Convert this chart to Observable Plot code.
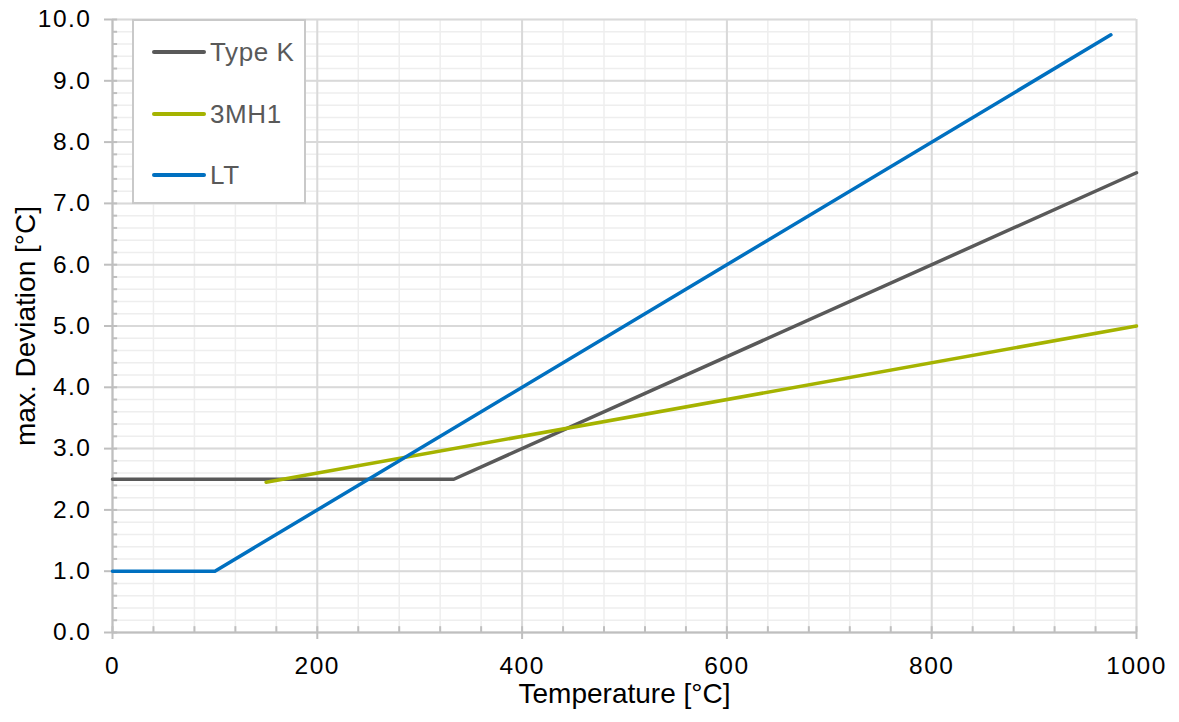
<!DOCTYPE html>
<html>
<head>
<meta charset="utf-8">
<script src="https://cdn.jsdelivr.net/npm/d3@7"></script>
<script src="https://cdn.jsdelivr.net/npm/@observablehq/plot@0.6"></script>
<style>
  html, body { margin: 0; padding: 0; background: #fff; }
  #wrap { position: relative; width: 1179px; height: 722px; font-family: "Liberation Sans", Arial, sans-serif; }
  #legend { position: absolute; left: 132px; top: 19px; width: 170px; height: 181px; border: 2px solid #c9c9c9; background: #fff; }
  .item { position: absolute; left: 18px; height: 30px; display: flex; align-items: center; }
  .sw { width: 54px; height: 4px; border-radius: 2px; margin-right: 4px; }
  .lab { font-size: 26px; color: #595959; white-space: nowrap; letter-spacing: 0.6px; }
  g[aria-label="x-axis tick label"], g[aria-label="y-axis tick label"] { letter-spacing: 1.5px; }
</style>
</head>
<body>
<div id="wrap"></div>
<script>
// ---- data ----
const seriesNames = ["Type K", "3MH1", "LT"];
const seriesColors = ["#595959", "#a5b300", "#0070c0"];

const typeK_T = [0, 333.3, 1000];
const typeK_D = [2.5, 2.5, 7.5];

const mh1_T = [150, 1000];
const mh1_D = [2.45, 5.0];

const lt_T = [0, 100, 975];
const lt_D = [1.0, 1.0, 9.75];

const xTicks = [0, 200, 400, 600, 800, 1000];
const yTicks = [0, 1, 2, 3, 4, 5, 6, 7, 8, 9, 10];
const xMinor = d3.range(0, 1001, 40);
const yMinor = d3.range(0, 10.001, 0.2).map(v => +v.toFixed(1));

const xTitle = "Temperature [°C]";
const yTitle = "max. Deviation [°C]";

// ---- table ----
const rows = [];
[[typeK_T, typeK_D], [mh1_T, mh1_D], [lt_T, lt_D]].forEach(([T, D], i) => {
  T.forEach((t, j) => rows.push({series: seriesNames[i], T: t, D: D[j]}));
});

const font = "'Liberation Sans', Arial, sans-serif";

const chart = Plot.plot({
  width: 1179,
  height: 722,
  marginLeft: 112,
  marginRight: 43,
  marginTop: 19,
  marginBottom: 90,
  style: {fontFamily: font, background: "#fff"},
  x: {domain: [0, 1000]},
  y: {domain: [0, 10]},
  color: {domain: seriesNames, range: seriesColors},
  marks: [
    Plot.ruleX(xMinor, {stroke: "#eeeeee", strokeWidth: 1.5}),
    Plot.ruleY(yMinor, {stroke: "#eeeeee", strokeWidth: 1.5}),
    Plot.ruleX(xTicks, {stroke: "#d9d9d9", strokeWidth: 2}),
    Plot.ruleY(yTicks, {stroke: "#d9d9d9", strokeWidth: 2}),
    Plot.ruleX(xMinor, {y1: 0, y2: 0.095, stroke: "#bfbfbf", strokeWidth: 2}),
    Plot.ruleY(yMinor, {x1: 0, x2: 5, stroke: "#bfbfbf", strokeWidth: 2}),
    Plot.ruleY([0], {stroke: "#bfbfbf", strokeWidth: 2}),
    Plot.ruleX([0], {stroke: "#bfbfbf", strokeWidth: 2}),
    Plot.axisX({ticks: xTicks, tickSize: 7, tickPadding: 17, stroke: "#bfbfbf", strokeWidth: 2,
                fill: "#000", fontSize: 24.5, label: null, tickFormat: d3.format("d")}),
    Plot.axisY({ticks: yTicks, tickSize: 8, tickPadding: 13, stroke: "#bfbfbf", strokeWidth: 2,
                fill: "#000", fontSize: 24.5, label: null, tickFormat: d3.format(".1f")}),
    Plot.line(rows, {x: "T", y: "D", z: "series", stroke: "series", strokeWidth: 3.5,
                     strokeLinecap: "round", strokeLinejoin: "round"}),
    Plot.text([xTitle], {frameAnchor: "bottom", lineAnchor: "middle", textAnchor: "middle", dy: 62, fontSize: 28, fill: "#000"}),
    Plot.text([yTitle], {frameAnchor: "left", lineAnchor: "middle", textAnchor: "middle", dx: -86, rotate: -90, fontSize: 28, fill: "#000"})
  ]
});

const wrap = document.getElementById("wrap");
wrap.appendChild(chart);

// legend overlay
const legend = document.createElement("div");
legend.id = "legend";
const tops = [16, 78, 139];
seriesNames.forEach((name, i) => {
  const it = document.createElement("div");
  it.className = "item";
  it.style.top = tops[i] + "px";
  const sw = document.createElement("div");
  sw.className = "sw";
  sw.style.background = seriesColors[i];
  const lab = document.createElement("span");
  lab.className = "lab";
  lab.textContent = name;
  it.appendChild(sw);
  it.appendChild(lab);
  legend.appendChild(it);
});
wrap.appendChild(legend);
</script>
</body>
</html>
